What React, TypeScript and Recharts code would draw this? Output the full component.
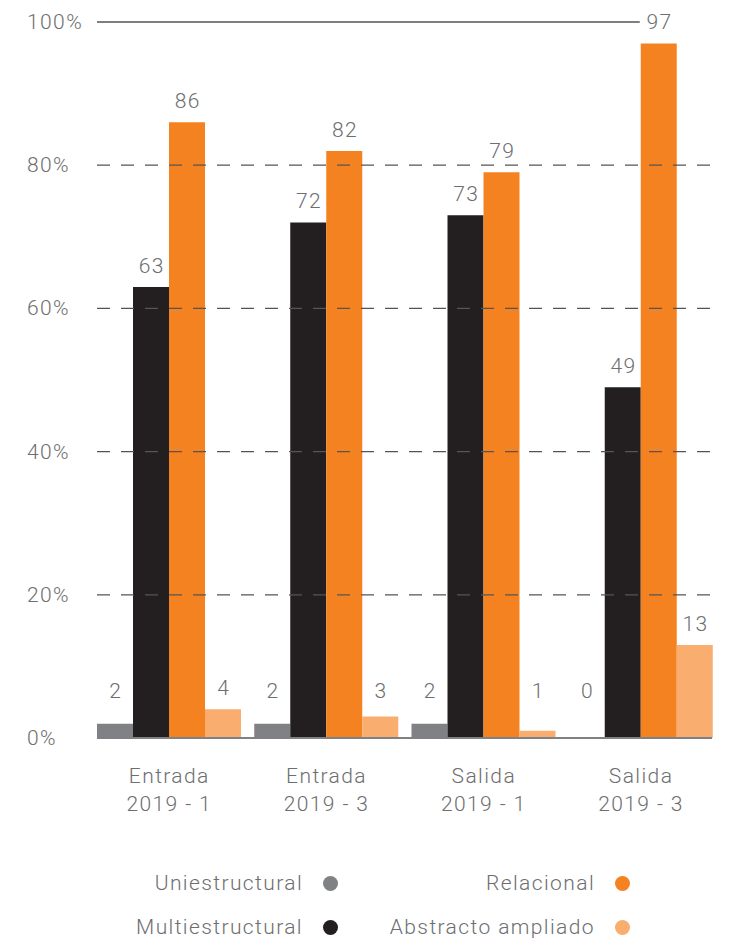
import { BarChart, Bar, XAxis, YAxis, ReferenceLine, LabelList } from 'recharts';

const categories = ['Entrada\n2019 - 1', 'Entrada\n2019 - 3', 'Salida\n2019 - 1', 'Salida\n2019 - 3'];
const uniestructural = [2, 2, 2, 0];
const multiestructural = [63, 72, 73, 49];
const relacional = [86, 82, 79, 97];
const abstracto = [4, 3, 1, 13];
const yTicks = [0, 20, 40, 60, 80, 100];

const SERIES = [
  { key: 'uni', name: 'Uniestructural', color: '#808184' },
  { key: 'multi', name: 'Multiestructural', color: '#231f20' },
  { key: 'rel', name: 'Relacional', color: '#f58220' },
  { key: 'abs', name: 'Abstracto ampliado', color: '#f9ad6e' },
];

const data = categories.map((c, i) => ({
  cat: c,
  uni: uniestructural[i],
  multi: multiestructural[i],
  rel: relacional[i],
  abs: abstracto[i],
}));

const FONT = 'Roboto, "DejaVu Sans", sans-serif';
const TEXT = '#6d6e70';
const LS = 1.4;

const YTick = (props: any) => {
  const { y, payload } = props;
  return (
    <text x={27} y={y} dy={7} textAnchor="start" fontSize={21} fontWeight={300} fill={TEXT} fontFamily={FONT} style={{ letterSpacing: LS }}>
      {payload.value}%
    </text>
  );
};

const XTick = (props: any) => {
  const { x, payload } = props;
  const lines = String(payload.value).split('\n');
  return (
    <g>
      {lines.map((l, i) => (
        <text key={i} x={x + LS / 2} y={783 + i * 28} textAnchor="middle" fontSize={21} fontWeight={300} fill={TEXT} fontFamily={FONT} style={{ letterSpacing: LS }}>
          {l}
        </text>
      ))}
    </g>
  );
};

const ValueLabel = (props: any) => {
  const { x, y, width, value } = props;
  const base = Math.min(y - 14, 698);
  return (
    <g>
      {value > 95 && <rect x={x - 1} y={y - 40} width={width * 2 + 6} height={30} fill="#fff" />}
      <text x={x + width / 2 + LS / 2} y={base} textAnchor="middle" fontSize={21} fontWeight={300} fill={TEXT} fontFamily={FONT} style={{ letterSpacing: LS }}>
        {value}
      </text>
    </g>
  );
};

export default function App() {
  return (
    <div style={{ position: 'absolute', left: 0, top: 0, width: 729, height: 942, background: '#fff' }}>
      <BarChart
        width={729}
        height={830}
        data={data}
        margin={{ top: 22, right: 17, bottom: 0, left: 0 }}
        barGap={0}
        barCategoryGap={7}
      >
        <XAxis
          dataKey="cat"
          height={92}
          padding={{ left: -7, right: -7 }}
          axisLine={{ stroke: '#808184', strokeWidth: 2 }}
          tickLine={false}
          tick={<XTick />}
          interval={0}
        />
        <YAxis
          width={97}
          domain={[0, 100]}
          ticks={yTicks}
          axisLine={false}
          tickLine={false}
          tick={<YTick />}
        />
        {[20, 40, 60, 80].map((v) => (
          <ReferenceLine key={v} y={v} stroke="#555" strokeWidth={1.3} strokeDasharray="13 11" />
        ))}
        <ReferenceLine y={100} stroke="#555" strokeWidth={1.5} />
        {SERIES.map((s) => (
          <Bar key={s.key} dataKey={s.key} name={s.name} fill={s.color} minPointSize={1} isAnimationActive={false}>
            <LabelList dataKey={s.key} content={<ValueLabel />} />
          </Bar>
        ))}
      </BarChart>
      <div style={{ position: 'absolute', left: 0, top: 866, width: 729, fontFamily: FONT, fontWeight: 300, fontSize: 21, letterSpacing: LS, color: TEXT }}>
        {[[SERIES[0], SERIES[2]], [SERIES[1], SERIES[3]]].map((row, ri) => (
          <div key={ri} style={{ position: 'relative', height: 44 }}>
            {row.map((s, ci) => (
              <div
                key={s.key}
                style={{
                  position: 'absolute',
                  right: ci === 0 ? 729 - 338 : 729 - 630,
                  top: 4,
                  display: 'flex',
                  alignItems: 'center',
                  whiteSpace: 'nowrap',
                  lineHeight: '26px',
                }}
              >
                <span>{s.name}</span>
                <span style={{ display: 'inline-block', width: 15, height: 15, borderRadius: '50%', background: s.color, marginLeft: 20 }} />
              </div>
            ))}
          </div>
        ))}
      </div>
    </div>
  );
}
